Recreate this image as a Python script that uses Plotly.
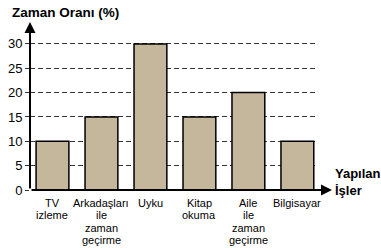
import plotly.graph_objects as go

categories = [["TV", "izleme"], ["Arkadaşları", "ile", "zaman", "geçirme"], ["Uyku"],
              ["Kitap", "okuma"], ["Aile", "ile", "zaman", "geçirme"], ["Bilgisayar"]]
values = [10, 15, 30, 15, 20, 10]
y_ticks = [0, 5, 10, 15, 20, 25, 30]
y_title = "Zaman Oranı (%)"
x_title = "Yapılan<br>İşler"

FONT = "Liberation Sans, Arial, sans-serif"
W, H = 381, 248
L, R, T, B = 30, 66, 22, 58
pw = W - L - R
ph = H - T - B

xs = list(range(len(categories)))
fig = go.Figure()
fig.add_trace(go.Bar(
    x=xs, y=values,
    marker=dict(color="#c4b79c", line=dict(color="black", width=1.5)),
    width=0.67,
))

fig.update_layout(
    width=W, height=H,
    margin=dict(l=L, r=R, t=T, b=B, pad=0, autoexpand=False),
    paper_bgcolor="white", plot_bgcolor="white",
    showlegend=False,
    font=dict(family=FONT, color="black"),
    xaxis=dict(
        range=[-0.459, 5.36],
        showticklabels=False,
        showgrid=False, zeroline=False, showline=False, ticks="",
        automargin=False, fixedrange=True,
    ),
    yaxis=dict(
        range=[0, 34.5],
        tickvals=y_ticks,
        tickfont=dict(size=13, family=FONT, color="black"),
        ticks="outside", ticklen=4, tickcolor="#333", tickwidth=1,
        showgrid=True, gridcolor="#333", gridwidth=1, griddash="5px,3px",
        zeroline=False, showline=False,
        automargin=False, fixedrange=True,
    ),
)

# category labels, line by line for tighter line spacing
for xi, lines in zip(xs, categories):
    for i, line in enumerate(lines):
        fig.add_annotation(x=xi, y=0, xref="x", yref="y", text=line, showarrow=False,
                           xanchor="center", yanchor="top", yshift=-(6 + i * 12.4),
                           borderpad=0, font=dict(size=11, family=FONT, color="black"))

# y axis with arrow
fig.add_annotation(xref="paper", yref="paper", x=0, y=1.0, ax=0, ay=ph,
                   axref="pixel", ayref="pixel", text="", showarrow=True,
                   arrowhead=2, arrowsize=1.1, arrowwidth=2, arrowcolor="black", standoff=0)
# x axis with arrow
fig.add_annotation(xref="paper", yref="paper", x=(332 - L) / pw, y=0, ax=-(332 - L), ay=0,
                   axref="pixel", ayref="pixel", text="", showarrow=True,
                   arrowhead=2, arrowsize=1.1, arrowwidth=2, arrowcolor="black", standoff=0)

fig.add_annotation(xref="paper", yref="paper", x=(10 - L) / pw, y=(H - B - 13) / ph,
                   xanchor="left", yanchor="middle", text="<b>" + y_title + "</b>",
                   showarrow=False, font=dict(size=13.5, family=FONT, color="black"))
fig.add_annotation(xref="paper", yref="paper", x=(333 - L) / pw, y=(H - B - 181.5) / ph,
                   xanchor="left", yanchor="middle", align="left", text="<b>" + x_title + "</b>",
                   showarrow=False, font=dict(size=13, family=FONT, color="black"))

fig.write_html("out.html")
